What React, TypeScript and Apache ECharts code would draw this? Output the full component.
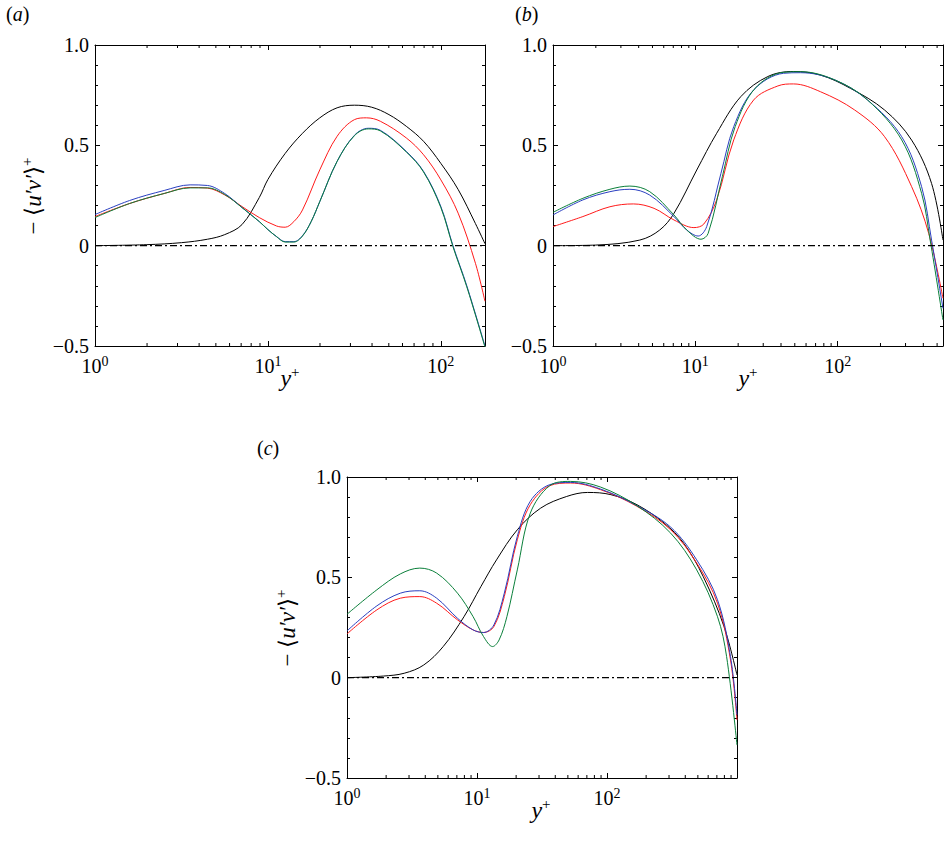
import { useEffect, useRef } from "react";
import * as echarts from "echarts";

// x values are log10(y+)
const blackA = [[0, 0], [0.3, 0.005], [0.5, 0.015], [0.65, 0.032], [0.75, 0.055], [0.85, 0.105], [0.95, 0.24], [1.0, 0.33], [1.1, 0.46], [1.2, 0.56], [1.3, 0.637], [1.4, 0.687], [1.5, 0.7], [1.6, 0.69], [1.7, 0.653], [1.8, 0.595], [1.9, 0.52], [2.0, 0.41], [2.1, 0.28], [2.2, 0.11], [2.255, 0.01]];
const redA = [[0, 0.145], [0.2, 0.21], [0.4, 0.26], [0.55, 0.29], [0.65, 0.287], [0.75, 0.253], [0.85, 0.195], [0.95, 0.14], [1.05, 0.098], [1.1, 0.092], [1.15, 0.12], [1.2, 0.178], [1.3, 0.378], [1.4, 0.545], [1.5, 0.628], [1.57, 0.637], [1.65, 0.62], [1.8, 0.537], [1.9, 0.453], [2.0, 0.328], [2.1, 0.162], [2.2, -0.088], [2.255, -0.277]];
const blueA = [[0, 0.155], [0.2, 0.225], [0.4, 0.275], [0.55, 0.303], [0.65, 0.3], [0.75, 0.26], [0.85, 0.19], [0.95, 0.12], [1.0, 0.08], [1.05, 0.045], [1.1, 0.02], [1.15, 0.02], [1.2, 0.05], [1.25, 0.12], [1.3, 0.22], [1.4, 0.42], [1.5, 0.55], [1.58, 0.585], [1.65, 0.575], [1.8, 0.47], [1.9, 0.37], [2.0, 0.195], [2.07, 0.0], [2.15, -0.2], [2.255, -0.5]];
const greenA = [[0, 0.14], [0.2, 0.21], [0.4, 0.26], [0.55, 0.288], [0.65, 0.288], [0.75, 0.255], [0.85, 0.19], [0.95, 0.12], [1.0, 0.08], [1.05, 0.045], [1.1, 0.018], [1.15, 0.018], [1.2, 0.048], [1.25, 0.12], [1.3, 0.22], [1.4, 0.42], [1.5, 0.548], [1.58, 0.582], [1.65, 0.572], [1.8, 0.467], [1.9, 0.367], [2.0, 0.19], [2.07, -0.005], [2.15, -0.205], [2.255, -0.505]];

const blackB = [[0, 0], [0.3, 0.003], [0.61, 0.028], [0.75, 0.078], [0.85, 0.161], [1.01, 0.377], [1.15, 0.56], [1.32, 0.743], [1.51, 0.843], [1.69, 0.868], [1.88, 0.85], [2.09, 0.784], [2.33, 0.676], [2.52, 0.526], [2.66, 0.31], [2.74, 0.028]];
const redB = [[0, 0.095], [0.21, 0.145], [0.4, 0.194], [0.565, 0.208], [0.71, 0.186], [0.85, 0.128], [0.99, 0.09], [1.06, 0.108], [1.15, 0.228], [1.27, 0.527], [1.41, 0.726], [1.58, 0.796], [1.69, 0.806], [1.88, 0.767], [2.12, 0.676], [2.33, 0.543], [2.52, 0.294], [2.64, 0.061], [2.74, -0.262]];
const blueB = [[0, 0.153], [0.21, 0.228], [0.4, 0.269], [0.54, 0.281], [0.68, 0.252], [0.85, 0.145], [0.94, 0.078], [1.02, 0.048], [1.08, 0.095], [1.18, 0.36], [1.27, 0.593], [1.41, 0.776], [1.62, 0.859], [1.74, 0.862], [1.98, 0.826], [2.21, 0.726], [2.45, 0.543], [2.59, 0.294], [2.66, 0.028], [2.74, -0.312]];
const greenB = [[0, 0.166], [0.21, 0.236], [0.4, 0.281], [0.54, 0.297], [0.68, 0.269], [0.85, 0.153], [0.94, 0.078], [1.04, 0.032], [1.09, 0.061], [1.19, 0.344], [1.28, 0.593], [1.42, 0.784], [1.62, 0.864], [1.74, 0.867], [1.98, 0.826], [2.21, 0.726], [2.45, 0.527], [2.59, 0.261], [2.65, 0.028], [2.74, -0.37]];

const blackC = [[0, 0], [0.28, 0.008], [0.44, 0.022], [0.59, 0.063], [0.74, 0.155], [0.9, 0.304], [1.03, 0.454], [1.15, 0.587], [1.31, 0.737], [1.49, 0.845], [1.69, 0.903], [1.85, 0.923], [2.03, 0.912], [2.23, 0.862], [2.44, 0.77], [2.59, 0.67], [2.74, 0.504], [2.9, 0.255], [3.0, 0.013]];
const redC = [[0, 0.218], [0.23, 0.338], [0.41, 0.396], [0.56, 0.404], [0.69, 0.371], [0.85, 0.288], [0.97, 0.238], [1.05, 0.225], [1.13, 0.255], [1.21, 0.404], [1.31, 0.687], [1.41, 0.862], [1.56, 0.957], [1.72, 0.97], [1.95, 0.937], [2.23, 0.854], [2.49, 0.737], [2.69, 0.571], [2.85, 0.371], [2.95, 0.088], [3.0, -0.211]];
const blueC = [[0, 0.233], [0.23, 0.358], [0.41, 0.421], [0.56, 0.433], [0.69, 0.396], [0.85, 0.296], [0.97, 0.238], [1.05, 0.225], [1.13, 0.263], [1.21, 0.421], [1.31, 0.704], [1.41, 0.879], [1.56, 0.962], [1.72, 0.973], [1.95, 0.94], [2.23, 0.857], [2.49, 0.75], [2.69, 0.587], [2.85, 0.388], [2.95, 0.105], [3.0, -0.186]];
const greenC = [[0, 0.316], [0.23, 0.438], [0.41, 0.517], [0.56, 0.546], [0.69, 0.521], [0.85, 0.421], [0.97, 0.304], [1.05, 0.205], [1.12, 0.155], [1.17, 0.188], [1.23, 0.304], [1.31, 0.537], [1.41, 0.82], [1.56, 0.957], [1.72, 0.978], [1.95, 0.95], [2.23, 0.857], [2.49, 0.72], [2.69, 0.537], [2.85, 0.304], [2.92, 0.105], [3.0, -0.336]];

const panels = [
  { max: Math.log10(180), lines: [blackA, redA, blueA, greenA], grid: { left: 95, top: 45, width: 390, height: 301 } },
  { max: Math.log10(550), lines: [blackB, redB, blueB, greenB], grid: { left: 553, top: 45, width: 390, height: 301 } },
  { max: 3, lines: [blackC, redC, blueC, greenC], grid: { left: 347, top: 477, width: 390, height: 301 } },
];
const colors = ["#000000", "#ff1a1a", "#2a3fc0", "#0a7f3a"];

const FONT = "Liberation Serif";

function minorTicks(max: number): number[] {
  const out: number[] = [];
  for (let d = 0; d < 4; d++)
    for (let k = 2; k <= 9; k++) {
      const v = Math.log10(k) + d;
      if (v < max) out.push(v);
    }
  return out;
}

function yFmt(v: number): string {
  if (Math.abs(v) < 1e-9) return "0";
  return v < 0 ? "\u2212" + Math.abs(v).toFixed(1) : v.toFixed(1);
}

export default function App() {
  const ref = useRef<HTMLDivElement | null>(null);

  useEffect(() => {
    document.body.style.margin = "0";
    if (!ref.current) return;
    const chart = echarts.init(ref.current, undefined, { renderer: "svg" });

    const grid: any[] = [];
    const xAxis: any[] = [];
    const yAxis: any[] = [];
    const series: any[] = [];

    panels.forEach((p, i) => {
      grid.push(p.grid);
      const mk = () => ({ show: true, onZero: false, lineStyle: { color: "#000", width: 1 } });
      const tick = () => ({ inside: true, length: 5, lineStyle: { color: "#000" } });
      xAxis.push({
        type: "value", gridIndex: i, min: 0, max: p.max, interval: 1, position: "bottom",
        axisLine: mk(), splitLine: { show: false }, axisTick: tick(),
        axisLabel: {
          margin: 8, showMaxLabel: false, fontFamily: FONT, fontSize: 20, color: "#000",
          formatter: (v: number) => (Math.abs(v - Math.round(v)) < 1e-9 ? `{b|10}{s|${Math.round(v)}}` : ""),
          rich: {
            b: { fontFamily: FONT, fontSize: 20, color: "#000" },
            s: { fontFamily: FONT, fontSize: 14, color: "#000", verticalAlign: "top", padding: [0, 0, 10, 0] },
          },
        },
      });
      xAxis.push({
        type: "value", gridIndex: i, min: 0, max: p.max, interval: 1, position: "top",
        axisLine: mk(), splitLine: { show: false }, axisTick: tick(), axisLabel: { show: false },
      });
      const minor = { show: true, splitNumber: 5, length: 3, lineStyle: { color: "#000" } };
      yAxis.push({
        type: "value", gridIndex: i, min: -0.5, max: 1, interval: 0.5, position: "left",
        axisLine: mk(), splitLine: { show: false }, axisTick: tick(), minorTick: minor,
        axisLabel: { fontFamily: FONT, fontSize: 20, color: "#000", margin: 6, formatter: yFmt },
      });
      yAxis.push({
        type: "value", gridIndex: i, min: -0.5, max: 1, interval: 0.5, position: "right",
        axisLine: mk(), splitLine: { show: false }, axisTick: tick(), minorTick: minor,
        axisLabel: { show: false },
      });

      const xi = i * 2;
      const yi = i * 2;
      p.lines.forEach((d, j) => {
        series.push({
          type: "line", xAxisIndex: xi, yAxisIndex: yi, data: d, showSymbol: false,
          smooth: 0.35, lineStyle: { color: colors[j], width: 1 }, z: 3 + j, silent: true,
        });
      });
      series.push({
        type: "line", xAxisIndex: xi, yAxisIndex: yi, data: [[0, 0], [p.max, 0]], showSymbol: false,
        lineStyle: { color: "#000", width: 1.4, type: [7, 3, 2, 3] }, z: 10, silent: true,
      });
      series.push({
        type: "custom", xAxisIndex: xi, yAxisIndex: yi, silent: true, clip: false,
        data: minorTicks(p.max).map((v) => [v, 0]),
        renderItem: (params: any, api: any) => {
          const x = api.coord([api.value(0), 0])[0];
          const cs = params.coordSys;
          const st = { stroke: "#000", lineWidth: 1 };
          return {
            type: "group",
            children: [
              { type: "line", shape: { x1: x, y1: cs.y + cs.height, x2: x, y2: cs.y + cs.height - 3 }, style: st },
              { type: "line", shape: { x1: x, y1: cs.y, x2: x, y2: cs.y + 3 }, style: st },
            ],
          };
        },
      });
    });

    const ylab = (x: number, y: number) => ({
      type: "text", x, y, rotation: Math.PI / 2, silent: true,
      style: {
        text: "{n|\u2212 \u27E8}{i|u\u2032v\u2032}{n|\u27E9}{s|+}",
        align: "center", verticalAlign: "middle",
        rich: {
          n: { fontFamily: FONT, fontSize: 23, fill: "#000" },
          i: { fontFamily: FONT, fontSize: 23, fontStyle: "italic", fill: "#000" },
          s: { fontFamily: FONT, fontSize: 15, fill: "#000", verticalAlign: "top", padding: [0, 0, 12, 0] },
        },
      },
    });
    const xlab = (x: number, y: number) => ({
      type: "text", x, y, silent: true,
      style: {
        text: "{i|y}{s|+}", align: "center", verticalAlign: "middle",
        rich: {
          i: { fontFamily: FONT, fontSize: 24, fontStyle: "italic", fill: "#000" },
          s: { fontFamily: FONT, fontSize: 15, fill: "#000", verticalAlign: "top", padding: [0, 0, 12, 0] },
        },
      },
    });
    const plab = (t: string, x: number, y: number) => ({
      type: "text", x, y, silent: true,
      style: {
        text: `{n|(}{i|${t}}{n|)}`, align: "left", verticalAlign: "middle",
        rich: {
          n: { fontFamily: FONT, fontSize: 20, fill: "#000" },
          i: { fontFamily: FONT, fontSize: 20, fontStyle: "italic", fill: "#000" },
        },
      },
    });

    chart.setOption({
      animation: false,
      textStyle: { fontFamily: FONT },
      grid, xAxis, yAxis, series,
      graphic: [
        ylab(33, 196), ylab(287, 628),
        xlab(290, 378), xlab(748, 378), xlab(541, 810),
        plab("a", 6, 14), plab("b", 515, 14), plab("c", 257, 448),
      ],
    });

    return () => chart.dispose();
  }, []);

  return <div ref={ref} style={{ width: 944, height: 845 }} />;
}
